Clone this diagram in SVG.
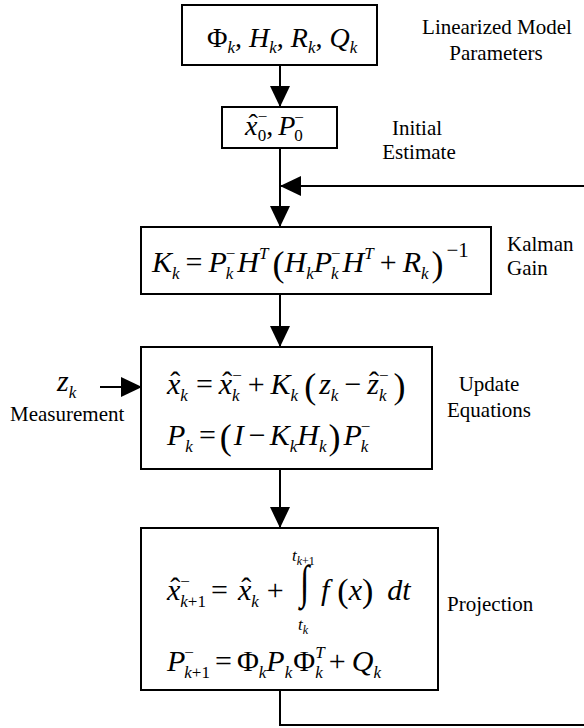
<svg xmlns="http://www.w3.org/2000/svg" width="584" height="728" viewBox="0 0 584 728">
<style>
.bx{fill:#fff;stroke:#000;stroke-width:2}
.ln{fill:none;stroke:#000;stroke-width:2;stroke-linejoin:miter}
.m{font-family:"Liberation Serif","Times New Roman",serif;font-size:30px;fill:#000}
.b{font-size:28px}
.i{font-style:italic}
.s{font-size:17px}
.s2{font-size:17px}
.t{font-size:12px}
.p{font-size:36px}
.q{font-size:21px}
.lbl{font-family:"Liberation Serif","Times New Roman",serif;font-size:21px;fill:#000}
.c{text-anchor:middle}
</style>
<defs>
<marker id="ah" markerUnits="userSpaceOnUse" markerWidth="21" markerHeight="20" refX="21" refY="10" orient="auto" viewBox="0 0 21 20">
<path d="M0,0 L21,10 L0,20 Z" fill="#000"/>
</marker>
</defs>
<rect width="584" height="728" fill="#fff"/>
<g id="connectors">
<path class="ln" d="M280,65 L280,107" marker-end="url(#ah)"/>
<path class="ln" d="M280,148 L280,227" marker-end="url(#ah)"/>
<path class="ln" d="M584,186 L280,186" marker-end="url(#ah)"/>
<path class="ln" d="M280,294 L280,347" marker-end="url(#ah)"/>
<path class="ln" d="M280,469 L280,528" marker-end="url(#ah)"/>
<path class="ln" d="M280,690 L280,725 L584,725"/>
<path class="ln" d="M100,387 L142,387" marker-end="url(#ah)"/>
</g>
<g id="model">
<rect class="bx" x="182" y="5" width="195" height="60"/>
<text class="m b" x="207" y="47"><tspan>Φ</tspan><tspan class="s2 i" dy="6">k</tspan><tspan dy="-6">, </tspan><tspan class="i">H</tspan><tspan class="s2 i" dy="6">k</tspan><tspan dy="-6">, </tspan><tspan class="i">R</tspan><tspan class="s2 i" dy="6">k</tspan><tspan dy="-6">, </tspan><tspan class="i">Q</tspan><tspan class="s2 i" dy="6">k</tspan></text>
<text class="lbl c" x="497" y="34">Linearized Model</text>
<text class="lbl c" x="496" y="60">Parameters</text>
</g>
<g id="initial">
<rect class="bx" x="222" y="107" width="115" height="41"/>
<text class="m b" x="245" y="135"><tspan class="i">x</tspan><tspan dx="-9" dy="-2">ˆ</tspan><tspan class="s2" dy="-11">−</tspan><tspan class="s2" dx="-9.6" dy="19">0</tspan><tspan dy="-6">,</tspan><tspan class="i" dx="5">P</tspan><tspan class="s2" dx="-1" dy="-12">−</tspan><tspan class="s2" dx="-9.6" dy="18">0</tspan></text>
<text class="lbl c" x="417" y="135">Initial</text>
<text class="lbl c" x="419" y="159">Estimate</text>
</g>
<g id="gain">
<rect class="bx" x="141" y="227" width="350" height="67"/>
<text class="m" x="152" y="272"><tspan class="i">K</tspan><tspan class="s i" dy="7">k</tspan><tspan dx="6" dy="-7">=</tspan><tspan class="i" dx="6">P</tspan><tspan class="s" dx="-1" dy="-13">−</tspan><tspan class="s i" dx="-9.6" dy="20">k</tspan><tspan class="i" dx="4" dy="-7">H</tspan><tspan class="s i" dy="-13">T</tspan><tspan class="p" dx="4" dy="17">(</tspan><tspan class="i" dy="-4">H</tspan><tspan class="s i" dy="7">k</tspan><tspan class="i" dy="-7">P</tspan><tspan class="s" dx="-1" dy="-13">−</tspan><tspan class="s i" dx="-9.6" dy="20">k</tspan><tspan class="i" dx="4" dy="-7">H</tspan><tspan class="s i" dy="-13">T</tspan><tspan dx="6" dy="13">+</tspan><tspan class="i" dx="6">R</tspan><tspan class="s i" dy="7">k</tspan><tspan class="p" dx="3" dy="-3">)</tspan><tspan class="q" dx="3" dy="-19">−1</tspan></text>
<text class="lbl" x="507" y="251">Kalman</text>
<text class="lbl" x="507" y="275">Gain</text>
</g>
<g id="update">
<rect class="bx" x="141" y="347" width="291" height="122"/>
<text class="m" x="167" y="394"><tspan class="i">x</tspan><tspan dx="-10" dy="-2">ˆ</tspan><tspan class="s i" dy="9">k</tspan><tspan dx="8" dy="-7">=</tspan><tspan class="i" dx="6">x</tspan><tspan dx="-10" dy="-2">ˆ</tspan><tspan class="s" dy="-11">−</tspan><tspan class="s i" dx="-9.6" dy="20">k</tspan><tspan dx="8" dy="-7">+</tspan><tspan class="i" dx="6">K</tspan><tspan class="s i" dy="7">k</tspan><tspan class="p" dx="6" dy="-3">(</tspan><tspan class="i" dx="3" dy="-4">z</tspan><tspan class="s i" dy="7">k</tspan><tspan dx="6" dy="-7">−</tspan><tspan class="i" dx="6">z</tspan><tspan dx="-10" dy="-2">ˆ</tspan><tspan class="s" dy="-11">−</tspan><tspan class="s i" dx="-9.6" dy="20">k</tspan><tspan class="p" dx="7" dy="-3">)</tspan></text>
<text class="m" x="167" y="445"><tspan class="i">P</tspan><tspan class="s i" dy="7">k</tspan><tspan dx="6" dy="-7">=</tspan><tspan class="p" dx="4" dy="4">(</tspan><tspan class="i" dx="2" dy="-4">I</tspan><tspan dx="5">−</tspan><tspan class="i" dx="4">K</tspan><tspan class="s i" dy="7">k</tspan><tspan class="i" dy="-7">H</tspan><tspan class="s i" dy="7">k</tspan><tspan class="p" dx="2" dy="-3">)</tspan><tspan class="i" dx="3" dy="-4">P</tspan><tspan class="s" dx="-1" dy="-13">−</tspan><tspan class="s i" dx="-9.6" dy="20">k</tspan></text>
<text class="m" x="57" y="391"><tspan class="i">z</tspan><tspan class="s i" dy="7">k</tspan></text>
<text class="lbl" x="10" y="421">Measurement</text>
<text class="lbl c" x="489" y="391">Update</text>
<text class="lbl c" x="489" y="417">Equations</text>
</g>
<g id="projection">
<rect class="bx" x="141" y="528" width="297" height="162"/>
<text class="m" x="167" y="600"><tspan class="i">x</tspan><tspan dx="-10" dy="-2">ˆ</tspan><tspan class="s" dy="-11">−</tspan><tspan class="s i" dx="-9.6" dy="20">k</tspan><tspan class="s">+1</tspan><tspan dx="5" dy="-7">=</tspan><tspan class="i" dx="10">x</tspan><tspan dx="-10" dy="-2">ˆ</tspan><tspan class="s i" dy="9">k</tspan><tspan dx="8" dy="-7">+</tspan></text>
<text class="m" style="font-size:34px" transform="translate(300,598) scale(1,1.39)" x="0" y="0">∫</text>
<text class="m" x="292" y="561"><tspan class="i s2">t</tspan><tspan class="t i" dy="4">k</tspan><tspan class="t">+1</tspan></text>
<text class="m" x="298" y="630"><tspan class="i s2">t</tspan><tspan class="t i" dy="4">k</tspan></text>
<text class="m" x="321" y="600"><tspan class="i">f</tspan><tspan dx="8" style="font-size:34px" dy="2">(</tspan><tspan class="i" dy="-2">x</tspan><tspan style="font-size:34px" dy="2">)</tspan><tspan class="i" dx="14" dy="-2">d</tspan><tspan class="i">t</tspan></text>
<text class="m" x="167" y="671"><tspan class="i">P</tspan><tspan class="s" dx="-1" dy="-13">−</tspan><tspan class="s i" dx="-9.6" dy="20">k</tspan><tspan class="s">+1</tspan><tspan dx="5" dy="-7">=</tspan><tspan dx="5">Φ</tspan><tspan class="s i" dy="7">k</tspan><tspan class="i" dy="-7">P</tspan><tspan class="s i" dy="7">k</tspan><tspan dx="1" dy="-7">Φ</tspan><tspan class="s i" dy="-13">T</tspan><tspan class="s i" dx="-9.4" dy="20">k</tspan><tspan dx="6" dy="-7">+</tspan><tspan class="i" dx="6">Q</tspan><tspan class="s i" dy="7">k</tspan></text>
<text class="lbl" x="447" y="611">Projection</text>
</g>
</svg>
